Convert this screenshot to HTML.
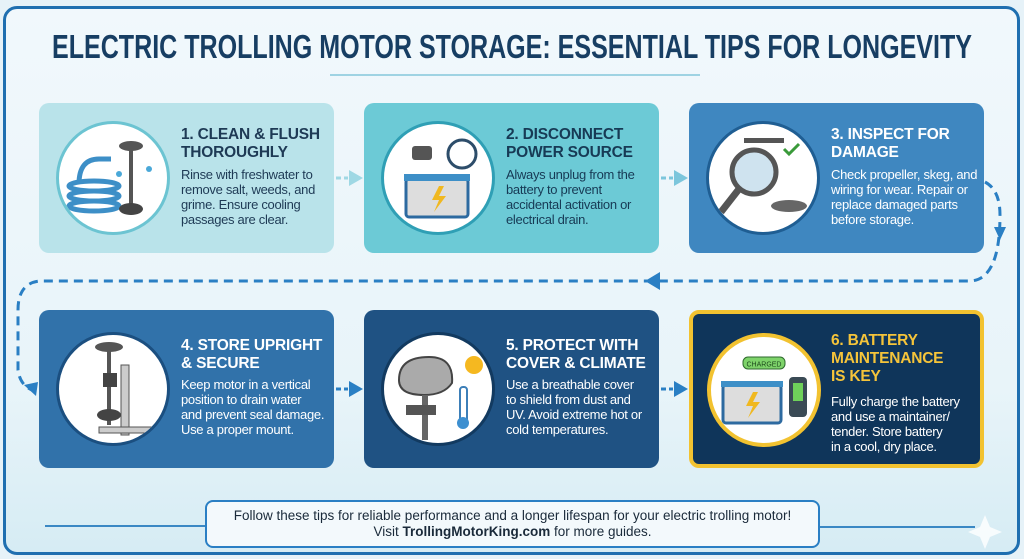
<!DOCTYPE html>
<html><head><meta charset="utf-8"><style>
*{margin:0;padding:0;box-sizing:border-box}
body{width:1024px;height:559px;overflow:hidden;background:#e6f2f8;font-family:"Liberation Sans",sans-serif;position:relative}
.frame{position:absolute;left:3px;top:6px;width:1017px;height:549px;border:3px solid #1f6fb0;border-radius:14px;background:linear-gradient(#f1f8fc,#e8f4f9 70%,#d6ecf4)}
.card{position:absolute;width:295px;border-radius:10px}
.circ{position:absolute;left:17px;border-radius:50%;background:#fff;width:114px;height:114px;overflow:hidden}
.circ svg{position:absolute;left:0;top:0}
.t{position:absolute;left:142px;font-weight:bold;font-size:15.5px;line-height:18px;white-space:nowrap;letter-spacing:-0.2px}
.b{position:absolute;left:142px;font-size:13px;line-height:15px;white-space:nowrap;letter-spacing:-0.3px}
.r1{top:103px;height:150px}
.r2{top:310px;height:158px}
.r1 .circ{top:18px}.r1 .t{top:23px}.r1 .b{top:64px}
.r2 .circ{top:22px}.r2 .t{top:27px}.r2 .b{top:67px}
</style></head><body>
<div class="frame"></div>
<svg style="position:absolute;left:0;top:0" width="1024" height="559">
<text x="52" y="58" font-family="Liberation Sans" font-weight="bold" font-size="33" fill="#173e63" textLength="920" lengthAdjust="spacingAndGlyphs">ELECTRIC TROLLING MOTOR STORAGE: ESSENTIAL TIPS FOR LONGEVITY</text>
<line x1="330" y1="75" x2="700" y2="75" stroke="#9fd3e3" stroke-width="2"/>
<path d="M985 182 Q1000 190 1000 215 Q1000 280 970 281 L40 281 Q18 283 18 310 L18 370 Q20 385 32 390" fill="none" stroke="#2a7fc4" stroke-width="3" stroke-dasharray="9,6"/>
<polygon points="645,281 660,272 660,290" fill="#2a7fc4"/>
<polygon points="994,227 1006,227 1000,240" fill="#2a7fc4"/>
<polygon points="24,385 38,382 36,396" fill="#2a7fc4"/>
<line x1="336" y1="178" x2="348" y2="178" stroke="#9fd8e4" stroke-width="3" stroke-dasharray="5,3"/><polygon points="349,170 363,178 349,186" fill="#9fd8e4"/>
<line x1="661" y1="178" x2="673" y2="178" stroke="#7cc6dc" stroke-width="3" stroke-dasharray="5,3"/><polygon points="674,170 688,178 674,186" fill="#7cc6dc"/>
<line x1="336" y1="389" x2="348" y2="389" stroke="#2a7fc4" stroke-width="3" stroke-dasharray="5,3"/><polygon points="349,381 363,389 349,397" fill="#2a7fc4"/>
<line x1="661" y1="389" x2="673" y2="389" stroke="#2a7fc4" stroke-width="3" stroke-dasharray="5,3"/><polygon points="674,381 688,389 674,397" fill="#2a7fc4"/>
<line x1="45" y1="526" x2="205" y2="526" stroke="#3a88c4" stroke-width="2"/>
<line x1="820" y1="527" x2="975" y2="527" stroke="#3a88c4" stroke-width="2"/>
<path d="M985 515 L990 527 L1002 532 L990 537 L985 549 L980 537 L968 532 L980 527Z" fill="#fff" opacity=".8"/>
</svg>
<div class="card r1" style="left:39px;background:#b9e3ea;color:#1e3a55"><div class="circ" style="border:3px solid #6cc4d2"><svg width="108" height="108"><g fill="none" stroke="#3d8fc7" stroke-width="5"><ellipse cx="35" cy="72" rx="25" ry="5"/><ellipse cx="35" cy="82" rx="25" ry="5"/><ellipse cx="35" cy="62" rx="25" ry="5"/><path d="M20 60 Q20 35 40 35 L52 35"/></g><rect x="70" y="25" width="4" height="60" fill="#555"/><ellipse cx="72" cy="22" rx="12" ry="5" fill="#555"/><ellipse cx="72" cy="85" rx="12" ry="6" fill="#444"/><circle cx="60" cy="50" r="3" fill="#4aa8d8"/><circle cx="90" cy="45" r="3" fill="#4aa8d8"/></svg></div><div class="t">1. CLEAN &amp; FLUSH<br>THOROUGHLY</div><div class="b">Rinse with freshwater to<br>remove salt, weeds, and<br>grime. Ensure cooling<br>passages are clear.</div></div>
<div class="card r1" style="left:364px;background:#6ccad6;color:#173a55"><div class="circ" style="border:3px solid #2f9fb5"><svg width="108" height="108"><rect x="22" y="55" width="62" height="38" rx="3" fill="#ddd" stroke="#2d6aa0" stroke-width="3"/><rect x="20" y="50" width="66" height="7" fill="#3d8fc7"/><path d="M55 62 L48 76 L55 76 L50 88 L62 72 L55 72 L60 62Z" fill="#f0b820"/><circle cx="78" cy="30" r="14" fill="none" stroke="#2d4d6a" stroke-width="3"/><rect x="28" y="22" width="20" height="14" rx="3" fill="#555"/></svg></div><div class="t">2. DISCONNECT<br>POWER SOURCE</div><div class="b">Always unplug from the<br>battery to prevent<br>accidental activation or<br>electrical drain.</div></div>
<div class="card r1" style="left:689px;background:#3f87c0;color:#fff"><div class="circ" style="border:3px solid #1f5e93"><svg width="108" height="108"><circle cx="45" cy="48" r="22" fill="#cfe3ef" stroke="#555" stroke-width="5"/><line x1="30" y1="65" x2="12" y2="88" stroke="#555" stroke-width="7"/><ellipse cx="80" cy="82" rx="18" ry="6" fill="#666"/><path d="M75 25 l5 5 l10 -10" stroke="#3a9a3a" stroke-width="3" fill="none"/><rect x="35" y="14" width="40" height="5" fill="#555"/></svg></div><div class="t">3. INSPECT FOR<br>DAMAGE</div><div class="b">Check propeller, skeg, and<br>wiring for wear. Repair or<br>replace damaged parts<br>before storage.</div></div>
<div class="card r2" style="left:39px;background:#3172aa;color:#fff"><div class="circ" style="border:3px solid #1b4f80"><svg width="108" height="108"><rect x="62" y="30" width="8" height="70" fill="#ccc" stroke="#555"/><rect x="40" y="92" width="55" height="6" fill="#ccc" stroke="#555"/><rect x="48" y="15" width="4" height="75" fill="#555"/><ellipse cx="50" cy="12" rx="14" ry="5" fill="#555"/><ellipse cx="50" cy="80" rx="12" ry="6" fill="#444"/><rect x="44" y="38" width="14" height="14" fill="#444"/></svg></div><div class="t">4. STORE UPRIGHT<br>&amp; SECURE</div><div class="b">Keep motor in a vertical<br>position to drain water<br>and prevent seal damage.<br>Use a proper mount.</div></div>
<div class="card r2" style="left:364px;background:#1f5283;color:#fff"><div class="circ" style="border:3px solid #123a60"><svg width="108" height="108"><path d="M15 45 Q15 22 45 22 Q70 22 68 48 Q60 60 40 60 Q15 60 15 45Z" fill="#aaa" stroke="#444" stroke-width="2"/><rect x="38" y="60" width="6" height="45" fill="#666"/><rect x="22" y="70" width="30" height="10" fill="#555"/><circle cx="90" cy="30" r="9" fill="#f5b820"/><rect x="76" y="52" width="7" height="35" rx="3" fill="#fff" stroke="#3d7fb8" stroke-width="2"/><circle cx="79" cy="88" r="6" fill="#3d8fd0"/></svg></div><div class="t">5. PROTECT WITH<br>COVER &amp; CLIMATE</div><div class="b">Use a breathable cover<br>to shield from dust and<br>UV. Avoid extreme hot or<br>cold temperatures.</div></div>
<div class="card r2" style="left:689px;background:#0f355a;color:#fff;border:4px solid #f2c230"><div class="circ" style="border:4px solid #f2c230;left:14px;top:19px"><svg width="106" height="106"><rect x="32" y="20" width="42" height="12" rx="5" fill="#7ed36a" stroke="#2d6a2d"/><text x="53" y="29.5" font-size="7" font-family="Liberation Sans" text-anchor="middle" fill="#1d4a1d">CHARGED</text><rect x="12" y="48" width="58" height="38" rx="3" fill="#ddd" stroke="#2d6aa0" stroke-width="3"/><rect x="10" y="44" width="62" height="6" fill="#3d8fc7"/><path d="M42 55 L35 69 L42 69 L37 81 L49 65 L42 65 L47 55Z" fill="#f0b820"/><rect x="78" y="40" width="18" height="40" rx="4" fill="#3a4a55"/><rect x="82" y="46" width="10" height="18" fill="#6fd15a"/></svg></div><div class="t" style="color:#f5c43a;left:138px;top:18px">6. BATTERY<br>MAINTENANCE<br>IS KEY</div><div class="b" style="left:138px;top:80px">Fully charge the battery<br>and use a maintainer/<br>tender. Store battery<br>in a cool, dry place.</div></div>
<div style="position:absolute;left:205px;top:500px;width:615px;height:48px;border:2px solid #2a7fc4;border-radius:8px;background:#f3f9fc;text-align:center;font-size:13.5px;line-height:16px;padding-top:6px;color:#1a2a3a">Follow these tips for reliable performance and a longer lifespan for your electric trolling motor!<br>Visit <b>TrollingMotorKing.com</b> for more guides.</div>
</body></html>
